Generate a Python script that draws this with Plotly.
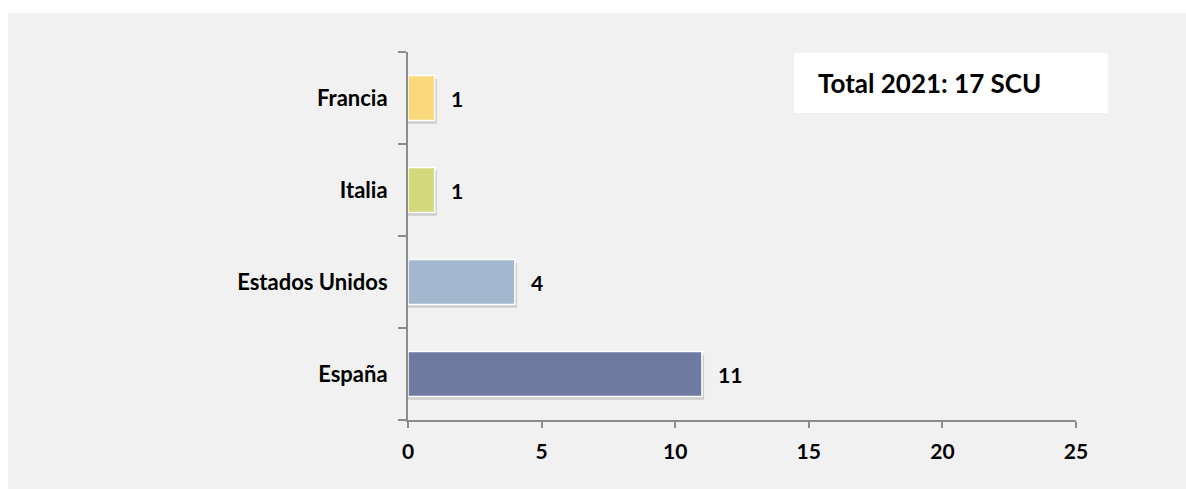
import plotly.graph_objects as go

categories = ["España", "Estados Unidos", "Italia", "Francia"]
values = [11, 4, 1, 1]
colors = ["#6F7AA0", "#A2B8CE", "#D4DA7C", "#FAD97C"]
x_ticks = [0, 5, 10, 15, 20, 25]
box_text = "Total 2021: 17 SCU"

W, H = 1186, 489
L = 408
T = 52
R = W - 1076
B = H - 420
pw, ph = W - L - R, H - T - B

def px_x(p):
    return (p - L) / pw

def px_y(p):
    return (H - B - p) / ph

FONT = "Lato"
BAR_W = 0.49

fig = go.Figure()
# soft shadow
fig.add_trace(go.Bar(
    y=categories, x=[v + 0.08 for v in values], orientation="h",
    marker=dict(color="rgba(0,0,0,0.15)", line=dict(width=0)),
    width=BAR_W, offset=-BAR_W / 2 - 0.035, hoverinfo="skip", showlegend=False,
))
fig.add_trace(go.Bar(
    y=categories, x=values, orientation="h",
    marker=dict(color=colors, line=dict(color="white", width=1.5)),
    width=BAR_W, offset=-BAR_W / 2, showlegend=False,
))

for c, v in zip(categories, values):
    fig.add_annotation(x=v, y=c, text=f"<b>{v}</b>", showarrow=False,
                       xanchor="left", xshift=14,
                       font=dict(family=FONT, size=21, color="black"))

shapes = [
    # white strips at left and top of the page
    dict(type="rect", xref="paper", yref="paper", x0=px_x(-2), x1=px_x(8),
         y0=px_y(H + 2), y1=px_y(-2), fillcolor="white", line=dict(width=0), layer="below"),
    dict(type="rect", xref="paper", yref="paper", x0=px_x(-2), x1=px_x(W + 2),
         y0=px_y(13), y1=px_y(-2), fillcolor="white", line=dict(width=0), layer="below"),
    # text box
    dict(type="rect", xref="paper", yref="paper", x0=px_x(794), x1=px_x(1108),
         y0=px_y(113), y1=px_y(53), fillcolor="white", line=dict(width=0), layer="above"),
]
fig.add_annotation(xref="paper", yref="paper", x=px_x(816), y=px_y(83),
                   text=f"<b>{box_text}</b>", showarrow=False, xanchor="left",
                   yanchor="middle", font=dict(family=FONT, size=26, color="black"))

fig.update_layout(
    width=W, height=H,
    margin=dict(l=L, r=R, t=T, b=B, pad=0),
    paper_bgcolor="#F1F1F1", plot_bgcolor="#F1F1F1",
    barmode="overlay",
    shapes=shapes,
    font=dict(family=FONT, color="black"),
)
fig.update_xaxes(
    range=[0, 25], tickvals=x_ticks, ticktext=[f"<b>{t}</b>" for t in x_ticks],
    showgrid=False, zeroline=False, showline=True, linecolor="#8C8C8C", linewidth=2,
    ticks="outside", ticklen=6, tickwidth=2, tickcolor="#8C8C8C",
    tickfont=dict(family=FONT, size=21, color="black"), ticklabelstandoff=6,
)
fig.update_yaxes(
    type="category", categoryorder="array", categoryarray=categories,
    range=[-0.5, 3.5], tickvals=categories, ticktext=[f"<b>{c}</b>" for c in categories],
    showgrid=False, zeroline=False, showline=True, linecolor="#8C8C8C", linewidth=2,
    ticks="outside", ticklen=8, tickwidth=2, tickcolor="#8C8C8C", tickson="boundaries",
    tickfont=dict(family=FONT, size=22, color="black"), ticklabelstandoff=14,
)

fig.write_html(
    "out.html",
    config={"displayModeBar": False},
    post_script=("document.documentElement.style.overflow='hidden';"
                 "document.documentElement.style.background='#F1F1F1';"
                 "document.body.style.margin='0';"
                 "document.body.style.overflow='hidden';"
                 "document.body.style.background='#F1F1F1';"),
)
